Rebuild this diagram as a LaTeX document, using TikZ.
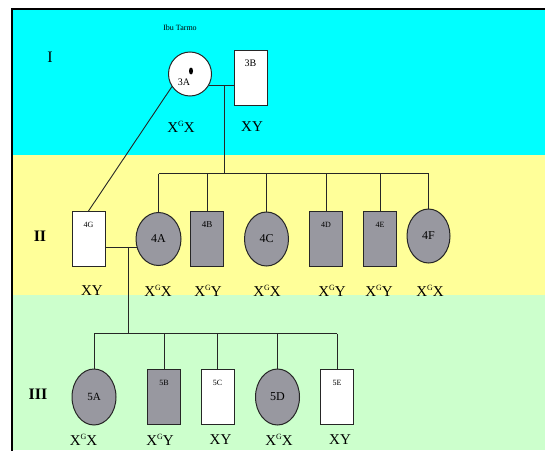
\documentclass[tikz,border=0pt]{standalone}
\usepackage{fontspec}
\setmainfont{Liberation Serif}
\usetikzlibrary{shapes.geometric}
\usetikzlibrary{positioning}
\definecolor{genibg}{RGB}{0,255,255}
\definecolor{geniibg}{RGB}{255,255,153}
\definecolor{geniiibg}{RGB}{204,255,204}
\definecolor{affgray}{RGB}{152,152,160}
\newcommand{\fs}[1]{\fontsize{#1}{#1}\selectfont}
\newcommand{\xg}[1]{X\raisebox{5.5pt}{\fs{8}G}#1}
\tikzset{pdp/.style={
  x=1pt,
  y=-1pt
}}
\tikzset{pdn/.style={
  draw=black!85,
  line width=1pt,
  fill=white,
  inner sep=0pt,
}}
\tikzset{fml/.style={
  pdn,
  shape=ellipse,
  minimum width=44pt,
  minimum height=54pt,
  font=\fs{12},
}}
\tikzset{mle/.style={
  pdn,
  shape=rectangle,
  minimum width=33pt,
  minimum height=55pt,
  text height=16pt,
  text depth=39pt,
  font=\fs{8},
}}
\tikzset{aff/.style={fill=affgray}}
\tikzset{gtp/.style={font=\fs{15},inner sep=0pt}}
\tikzset{gnr/.style={font=\fs{16},inner sep=0pt}}
\tikzset{lnk/.style={draw=black!85,line width=0.9pt}}

\begin{document}
\begin{tikzpicture}[pdp]
    \useasboundingbox (0,0) rectangle (545,450);
    \clip (0,0) rectangle (545,450);

    %% Background bands and frame
    \fill[genibg] (13,10) rectangle (545,155);
    \fill[geniibg] (13,155) rectangle (545,295);
    \fill[geniiibg] (13,295) rectangle (545,450);
    \draw[line width=2.5pt] (12,9) rectangle (570,470);

    % Generation numbers
    \node[gnr] (gI) at (50,57) {I};
    \node[gnr,font=\fs{16}\bfseries] (gII) at (40,236) {II};
    \node[gnr,font=\fs{16}\bfseries] (gIII) at (38,394) {III};

    %% Generation I
    \node[fml,minimum width=43pt,minimum height=44pt,
      label={[font=\fs{10},xshift=-6pt,yshift=-8pt]center:3A}] (3A) at (190,74) {};
    \fill (191,71) ellipse (2 and 3.5);
    \node[font=\fs{8},inner sep=0pt] (ttl) at (180,28) {Ibu Tarmo};
    \node[mle,font=\fs{10}] (3B) at (250.5,77.5) {3B};
    \node[gtp] (g3A) at (181,127) {\xg{X}};
    \node[gtp] (g3B) at (252,127) {XY};

    %% Generation II
    \node[mle] (4G) at (88.5,239) {4G};
    \node[fml,aff,minimum width=45pt,minimum height=53pt] (4A) at (158.5,239) {4A};
    \node[mle,aff,font=\fs{9}] (4B) at (207,239) {4B};
    \node[fml,aff] (4C) at (266.5,239) {4C};
    \node[mle,aff] (4D) at (326,239) {4D};
    \node[mle,aff] (4E) at (380,239) {4E};
    \node[fml,aff,minimum width=43pt] (4F) at (428.5,236) {4F};

    \node[gtp] (g4G) at (92,291) {XY};
    \node[gtp] (g4A) at (158,291) {\xg{X}};
    \node[gtp] (g4B) at (208,291) {\xg{Y}};
    \node[gtp] (g4C) at (267,291) {\xg{X}};
    \node[gtp] (g4D) at (332,291) {\xg{Y}};
    \node[gtp] (g4E) at (379,291) {\xg{Y}};
    \node[gtp] (g4F) at (430,291) {\xg{X}};

    %% Generation III
    \node[fml,aff,minimum height=56pt,font=\fs{11}] (5A) at (94,397) {5A};
    \node[mle,aff] (5B) at (164,397) {5B};
    \node[mle] (5C) at (217.5,397) {5C};
    \node[fml,aff,minimum height=56pt] (5D) at (277.5,397) {5D};
    \node[mle] (5E) at (337,397) {5E};

    \node[gtp] (g5A) at (83.5,440) {\xg{X}};
    \node[gtp] (g5B) at (160,440) {\xg{Y}};
    \node[gtp] (g5C) at (220.5,440) {XY};
    \node[gtp] (g5D) at (279,440) {\xg{X}};
    \node[gtp] (g5E) at (340,440) {XY};

    %% Lines of descent

    % Couple I and their children
    \coordinate (m1) at (224,0);
    \coordinate (s2) at (0,173.5);
    \draw[lnk] (3A.-30) -- (3B.west |- 3A.-30);
    \draw[lnk] (m1 |- 3A.-30) -- (m1 |- s2);
    \draw[lnk] (4A.north |- s2) -- (4F.north |- s2);
    \foreach \k in {4A,4B,4C,4D,4E,4F}
      \draw[lnk] (\k.north |- s2) -- (\k.north);
    \draw[lnk] (3A.215) -- (4G.north);

    % Couple II and their children
    \coordinate (m2) at (128,0);
    \coordinate (s3) at (0,333.5);
    \draw[lnk] (4G.east |- 4A.200) -- (4A.200);
    \draw[lnk] (m2 |- 4A.200) -- (m2 |- s3);
    \draw[lnk] (5A.north |- s3) -- (5E.north |- s3);
    \foreach \k in {5A,5B,5C,5D,5E}
      \draw[lnk] (\k.north |- s3) -- (\k.north);

\end{tikzpicture}
\end{document}
